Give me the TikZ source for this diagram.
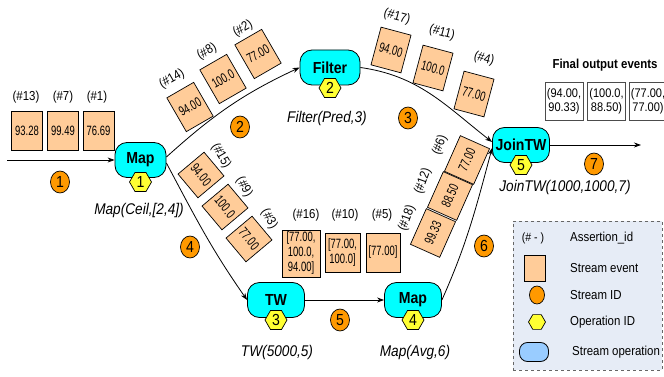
\documentclass[tikz,border=0pt]{standalone}
\usepackage{fontspec}
\setmainfont[FakeStretch=0.88]{Liberation Sans}
\newfontfamily\nar[FakeStretch=0.7]{Liberation Sans}
\usetikzlibrary{shapes.geometric,arrows.meta}
\definecolor{evfill}{HTML}{FFCC99}
\definecolor{opcyan}{HTML}{00FFFF}
\definecolor{sidorange}{HTML}{FF9900}
\definecolor{oidyellow}{HTML}{FFFF33}
\definecolor{legbg}{HTML}{E6ECF6}
\definecolor{legop}{HTML}{99CCFF}
\begin{document}
\begin{tikzpicture}[x=1pt,y=1pt,
  every node/.style={inner sep=0pt},
  ev/.style={draw, fill=evfill, line width=0.7pt, minimum width=31pt, minimum height=39pt, font=\nar\fontsize{13.5}{15}\selectfont},
  evr/.style={ev, minimum width=39pt, minimum height=32pt},
  ev5/.style={ev, align=center, minimum width=35pt},
  asn/.style={font=\fontsize{13}{15}\selectfont},
  op/.style={draw, fill=opcyan, line width=0.8pt, rounded corners=12pt, minimum height=35pt, font=\bfseries\fontsize{16}{18}\selectfont},
  sid/.style={ellipse, draw, fill=sidorange, line width=0.7pt, minimum width=19pt, minimum height=22pt, font=\fontsize{16}{18}\selectfont},
  oid/.style={regular polygon, regular polygon sides=6, draw, fill=oidyellow, line width=0.7pt, minimum size=22pt, font=\fontsize{16}{18}\selectfont},
  opl/.style={font=\itshape\fontsize{15.5}{17}\selectfont},
  conn/.style={line width=0.8pt, -{Stealth[length=7pt,width=5pt]}},
  outb/.style={draw=black!70, fill=white, line width=0.7pt, minimum width=38pt, minimum height=38pt, align=center, font=\fontsize{12.5}{14}\selectfont},
  legt/.style={anchor=west, font=\fontsize{13}{15}\selectfont}
]
\useasboundingbox (0,0) rectangle (664,-377);

% legend
\node[draw=black!60, dashed, fill=legbg, line width=0.8pt, minimum width=149pt, minimum height=149pt] (legend) at (587.5,-295.5) {};
\node[font=\fontsize{12}{14}\selectfont] (lga) at (533,-238) {(\# - )};
\node[legt] (lgat) at (570,-238) {Assertion\_id};
\node[draw, fill=evfill, line width=0.7pt, minimum width=21pt, minimum height=26pt] (lgb) at (535,-268) {};
\node[legt] (lgbt) at (570,-268) {Stream event};
\node[ellipse, draw, fill=sidorange, line width=0.7pt, minimum width=15pt, minimum height=18pt] (lgc) at (537,-295) {};
\node[legt] (lgct) at (570,-295) {Stream ID};
\node[regular polygon, regular polygon sides=6, draw, fill=oidyellow, line width=0.7pt, minimum size=17pt] (lgd) at (537,-322) {};
\node[legt] (lgdt) at (570,-322) {Operation ID};
\node[draw, fill=legop, line width=0.8pt, rounded corners=8pt, minimum width=29pt, minimum height=19pt] (lge) at (534,-352) {};
\node[legt] (lget) at (572,-352) {Stream operation};

% operation nodes
\node[op, minimum width=51pt] (m1) at (140.5,-160) {Map};
\node[op, minimum width=60pt] (filter) at (330,-67.5) {Filter};
\node[op, minimum width=57pt] (join) at (521,-145) {JoinTW};
\node[op, minimum width=57pt] (tw) at (276,-300) {TW};
\node[op, minimum width=57pt] (m2) at (413,-300) {Map};

\node[oid] (h1) at (140.5,-182) {1};
\node[oid] (h2) at (330,-88) {2};
\node[oid] (h5) at (521,-165) {5};
\node[oid] (h3) at (276,-320) {3};
\node[oid] (h4) at (413,-320) {4};

\node[opl] (l1) at (139,-210) {Map(Ceil,[2,4])};
\node[opl] (l2) at (327,-118) {Filter(Pred,3)};
\node[opl] (l5) at (565,-187) {JoinTW(1000,1000,7)};
\node[opl] (l3) at (277,-352) {TW(5000,5)};
\node[opl] (l4) at (415,-352) {Map(Avg,6)};

% connectors
\coordinate (instart) at (7,-160);
\coordinate (outend) at (641,-145);
\draw[conn] (instart) -- (m1.west);
\draw[conn] ([yshift=3pt]m1.east) to[out=42,in=205] (filter.west);
\draw[conn] ([yshift=-3pt]m1.east) to[out=-62,in=125] (tw.west);
\draw[conn] (filter.east) to[out=-8,in=142] ([yshift=3pt]join.west);
\draw[conn] (tw.east) -- (m2.west);
\draw[conn] (m2.east) to[out=66,in=-105] ([yshift=-3pt]join.west);
\draw[conn] (join.east) -- (outend);

% stream IDs
\node[sid] (s1) at (60,-182) {1};
\node[sid] (s2) at (240,-127) {2};
\node[sid] (s3) at (408,-118) {3};
\node[sid] (s4) at (190,-247) {4};
\node[sid] (s5) at (340,-320) {5};
\node[sid] (s6) at (484,-246) {6};
\node[sid] (s7) at (594,-164) {7};

% stream 1 events
\node[ev] (e13) at (27,-131) {93.28};
\node[ev] (e7) at (63,-131) {99.49};
\node[ev] (e1) at (98.5,-131) {76.69};
\node[asn] (a13) at (26,-97) {(\#13)};
\node[asn] (a7) at (63,-97) {(\#7)};
\node[asn] (a1) at (97,-97) {(\#1)};

% stream 2 events
\node[ev, rotate=30] (e14) at (190,-107) {94.00};
\node[ev, rotate=30] (e8) at (223,-79) {100.0};
\node[ev, rotate=30] (e2) at (258,-54) {77.00};
\node[asn, rotate=30] (a14) at (172,-79) {(\#14)};
\node[asn, rotate=30] (a8) at (207,-52) {(\#8)};
\node[asn, rotate=30] (a2) at (243,-29) {(\#2)};

% stream 3 events
\node[ev, rotate=-15] (e17) at (391,-50) {94.00};
\node[ev, rotate=-15] (e11) at (433,-68) {100.0};
\node[ev, rotate=-15] (e4) at (474,-94) {77.00};
\node[asn, rotate=-15] (a17) at (397,-17) {(\#17)};
\node[asn, rotate=-15] (a11) at (442,-33) {(\#11)};
\node[asn, rotate=-15] (a4) at (484,-59) {(\#4)};

% stream 4 events
\node[ev, rotate=-50, minimum height=34pt] (e15) at (201,-175) {94.00};
\node[ev, rotate=-50, minimum height=34pt] (e9) at (225,-207) {100.0};
\node[ev, rotate=-50, minimum height=34pt] (e3) at (249,-239) {77.00};
\node[asn, rotate=-60] (a15) at (221,-156) {(\#15)};
\node[asn, rotate=-60] (a9) at (244,-187) {(\#9)};
\node[asn, rotate=-60] (a3) at (269,-219) {(\#3)};

% stream 5 events
\node[ev5, minimum width=38pt, minimum height=47pt] (e16) at (301,-253.5) {[77.00,\\100.0,\\94.00]};
\node[ev5, minimum height=39pt] (e10) at (342.5,-252.5) {[77.00,\\100.0]};
\node[ev5, minimum width=34pt, minimum height=39pt] (e5) at (383,-252.5) {[77.00]};
\node[asn] (a16) at (306,-215) {(\#16)};
\node[asn] (a10) at (345,-215) {(\#10)};
\node[asn] (a5) at (382,-215) {(\#5)};

% stream 6 events
\node[evr, rotate=66] (e6) at (467,-160) {77.00};
\node[evr, rotate=66] (e12) at (450,-196) {88.50};
\node[evr, rotate=66] (e18) at (433,-233) {99.33};
\node[asn, rotate=70] (a6) at (440,-145) {(\#6)};
\node[asn, rotate=70] (a12) at (423,-181) {(\#12)};
\node[asn, rotate=70] (a18) at (407,-218) {(\#18)};

% final output
\node[font=\bfseries\fontsize{13}{15}\selectfont] (fin) at (605,-65) {Final output events};
\node[outb] (o1) at (564,-101) {(94.00,\\90.33)};
\node[outb] (o2) at (606.5,-101) {(100.0,\\88.50)};
\node[outb] (o3) at (648,-101) {(77.00,\\77.00)};
\end{tikzpicture}
\end{document}
